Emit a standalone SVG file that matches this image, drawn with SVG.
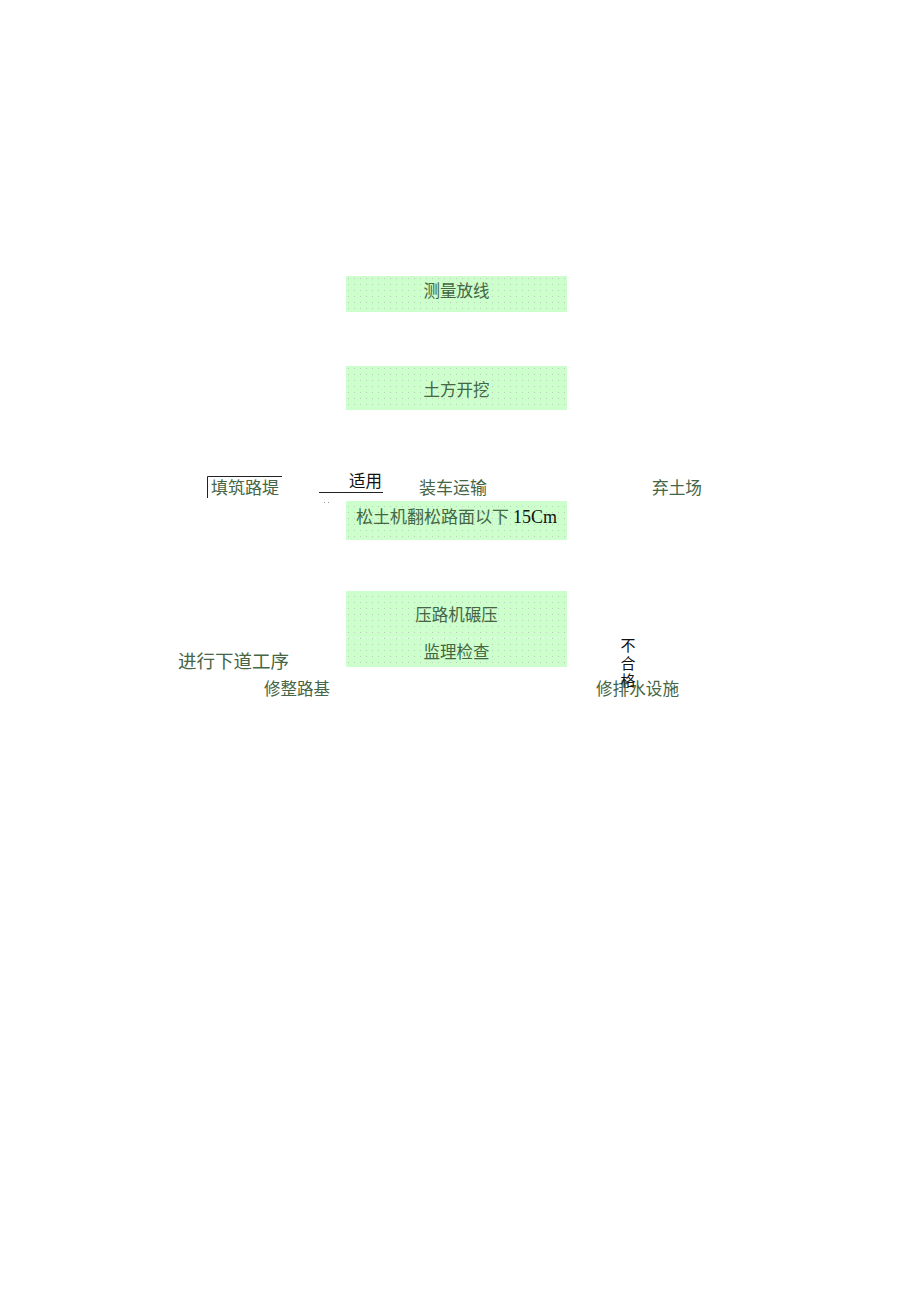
<svg xmlns="http://www.w3.org/2000/svg" width="920" height="1301" viewBox="0 0 920 1301">
<defs>
<pattern id="dots" x="346" y="0" width="6" height="6" patternUnits="userSpaceOnUse">
<rect width="6" height="6" fill="#ccffcc"/>
<rect x="2" y="2" width="1" height="1" fill="#bccbbc"/>
</pattern>
<style>
.box{fill:url(#dots);}
.t{font-family:"Noto Sans CJK SC","Liberation Sans",sans-serif;font-size:16.5px;fill:#456545;}
.c{text-anchor:middle;}
.k{fill:#111;}
.ln{stroke:#222;stroke-width:1;fill:none;}
</style>
</defs>
<rect width="920" height="1301" fill="#fff"/>
<g id="n1"><rect class="box" x="346" y="276" width="221" height="36"/><text class="t c" x="456.5" y="297">测量放线</text></g>
<g id="n2"><rect class="box" x="346" y="366" width="221" height="44"/><text class="t c" x="456.5" y="396">土方开挖</text></g>
<g id="n3"><rect class="box" x="346" y="501" width="221" height="39"/><text class="t" x="356" y="523" textLength="153" lengthAdjust="spacingAndGlyphs">松土机翻松路面以下</text><text x="513" y="523" style="font-family:'Liberation Serif',serif;font-size:18px;fill:#111">15Cm</text></g>
<g id="n4"><rect class="box" x="346" y="591" width="221" height="76"/><line x1="346" y1="638" x2="567" y2="638" stroke="#e8fff0" stroke-width="1" stroke-dasharray="2,2"/><text class="t c" x="456.5" y="621">压路机碾压</text><text class="t c" x="456.5" y="658">监理检查</text></g>
<g id="n5"><text class="t" x="211" y="494" textLength="68" lengthAdjust="spacingAndGlyphs">填筑路堤</text></g>
<g id="n6"><text class="t" x="419" y="494" textLength="68" lengthAdjust="spacingAndGlyphs">装车运输</text></g>
<g id="n7"><text class="t" x="652" y="494" textLength="50" lengthAdjust="spacingAndGlyphs">弃土场</text></g>
<g id="n8"><text class="t" x="178" y="668" style="font-size:18.5px" textLength="111" lengthAdjust="spacingAndGlyphs">进行下道工序</text></g>
<g id="n9"><text class="t" x="264" y="695" textLength="66" lengthAdjust="spacingAndGlyphs">修整路基</text></g>
<g id="n10"><text class="t" x="596" y="695" textLength="83" lengthAdjust="spacingAndGlyphs">修排水设施</text></g>
<g id="connectors">
<polyline class="ln" points="207.5,498 207.5,476.5 282,476.5"/>
<line class="ln" x1="319" y1="492.5" x2="383" y2="492.5"/>
<text class="t k" x="349" y="487" textLength="33" lengthAdjust="spacingAndGlyphs">适用</text>
<text class="t k c" style="font-size:15px"><tspan x="628" y="651">不</tspan><tspan x="628" y="668.5">合</tspan><tspan x="628" y="686">格</tspan></text>
<rect x="324" y="502" width="1" height="1" fill="#999"/>
<rect x="328" y="502" width="1" height="1" fill="#999"/>
</g>
</svg>
